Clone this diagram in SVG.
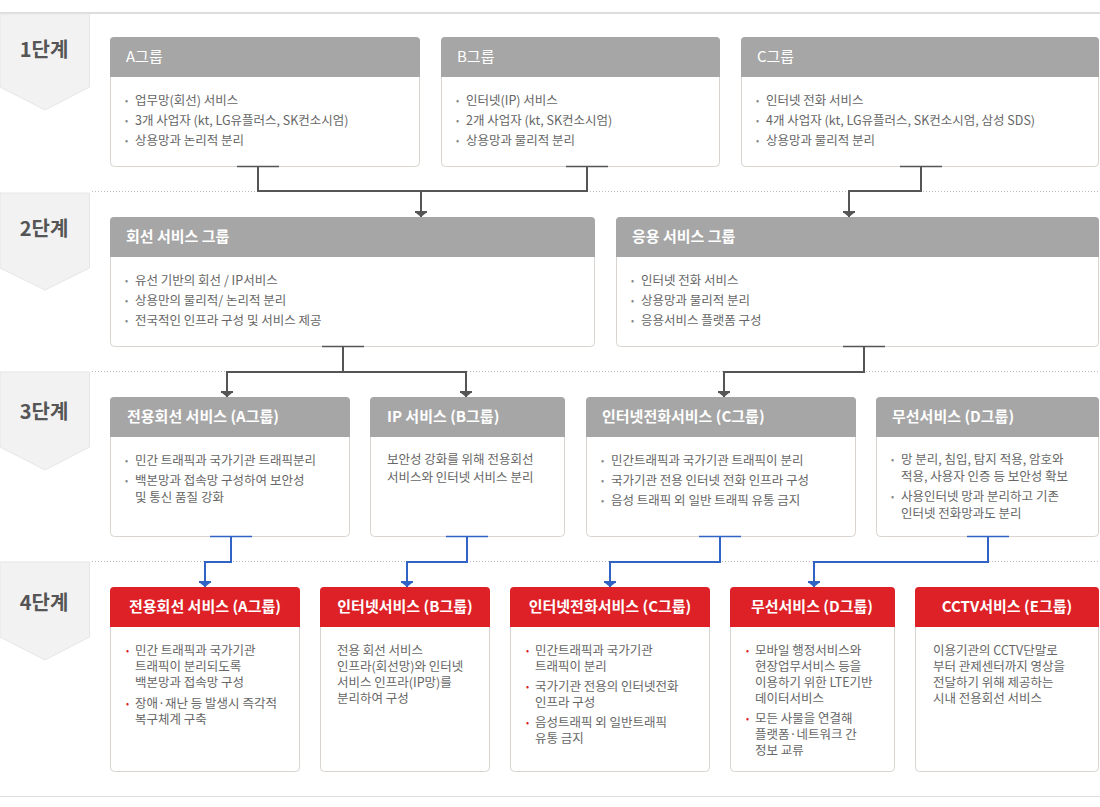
<svg xmlns="http://www.w3.org/2000/svg" width="1100" height="807" viewBox="0 0 1100 807">
<defs>
<style>
text { font-family: "Noto Sans CJK KR", "Noto Sans", sans-serif; }
.stg { fill: #f2f2f2; stroke: #e6e6e6; stroke-width: 1; }
.stt { font-size: 20px; font-weight: bold; fill: #555; text-anchor: middle; }
.box { fill: #fff; stroke: #d9d4cf; stroke-width: 1; }
.hg { fill: #a6a6a6; }
.hr { fill: #dd2127; }
.ht { font-size: 15px; font-weight: bold; fill: #fff; }
.ht1 { font-size: 15px; fill: #fff; }
.htc { font-size: 15px; font-weight: bold; fill: #fff; text-anchor: middle; }
.bt { font-size: 12.5px; fill: #666; }
.bu { font-size: 9px; fill: #888; }
.bur { font-size: 9px; fill: #dd2127; }
.sep { stroke: #bbb; stroke-width: 1; stroke-dasharray: 1 2; }
.rule { stroke: #ddd; }
.cg { stroke: #555; stroke-width: 2; fill: none; }
.cb { stroke: #3163c4; stroke-width: 2; fill: none; }
.sg { stroke: #555; stroke-width: 1.5; }
.sb { stroke: #3163c4; stroke-width: 1.5; }
</style>
<marker id="ag" viewBox="-7 -7 8 14" refX="0" refY="0" markerWidth="8" markerHeight="14" markerUnits="userSpaceOnUse" orient="auto">
<path d="M-6,-6 L-4,-6 L-4,-5 L0,0 L-4,5 L-4,6 L-6,6 Z" fill="#555"/>
</marker>
<marker id="ab" viewBox="-7 -7 8 14" refX="0" refY="0" markerWidth="8" markerHeight="14" markerUnits="userSpaceOnUse" orient="auto">
<path d="M-6,-6 L-4,-6 L-4,-5 L0,0 L-4,5 L-4,6 L-6,6 Z" fill="#3163c4"/>
</marker>
</defs>

<rect width="1100" height="807" fill="#fff"/>
<line class="rule" x1="0" y1="13" x2="1100" y2="13" stroke-width="2"/>
<line class="rule" x1="0" y1="796.5" x2="1100" y2="796.5" stroke-width="1"/>

<g id="separators">
<line class="sep" x1="92" y1="191.5" x2="1100" y2="191.5"/>
<line class="sep" x1="92" y1="371.5" x2="1100" y2="371.5"/>
<line class="sep" x1="92" y1="561.5" x2="1100" y2="561.5"/>
</g>

<g id="stage1"><polygon class="stg" points="0,14 89.5,14 89.5,87 45,110 0,87"/><text class="stt" x="44" y="57">1단계</text></g>
<g id="stage2"><polygon class="stg" points="0,193 89.5,193 89.5,268 45,290 0,268"/><text class="stt" x="44" y="236">2단계</text></g>
<g id="stage3"><polygon class="stg" points="0,372 89.5,372 89.5,447 45,470 0,447"/><text class="stt" x="44" y="419">3단계</text></g>
<g id="stage4"><polygon class="stg" points="0,562 89.5,562 89.5,637 45,660 0,637"/><text class="stt" x="44" y="610">4단계</text></g>

<!-- Stage 1 -->
<g id="s1-a">
<rect class="box" x="110.5" y="37.5" width="309" height="129" rx="4"/>
<path class="hg" d="M110,77 V41 A4,4 0 0 1 114,37 H416 A4,4 0 0 1 420,41 V77 Z"/>
<text class="ht1" x="126" y="62">A그룹</text>
<text class="bt"><tspan class="bu" x="125" y="104">•</tspan><tspan x="135" y="105">업무망(회선) 서비스</tspan><tspan class="bu" x="125" y="124">•</tspan><tspan x="135" y="125">3개 사업자 (kt, LG유플러스, SK컨소시엄)</tspan><tspan class="bu" x="125" y="144">•</tspan><tspan x="135" y="145">상용망과 논리적 분리</tspan></text>
</g>
<g id="s1-b">
<rect class="box" x="441.5" y="37.5" width="278" height="129" rx="4"/>
<path class="hg" d="M441,77 V41 A4,4 0 0 1 445,37 H716 A4,4 0 0 1 720,41 V77 Z"/>
<text class="ht1" x="457" y="62">B그룹</text>
<text class="bt"><tspan class="bu" x="456" y="104">•</tspan><tspan x="466" y="105">인터넷(IP) 서비스</tspan><tspan class="bu" x="456" y="124">•</tspan><tspan x="466" y="125">2개 사업자 (kt, SK컨소시엄)</tspan><tspan class="bu" x="456" y="144">•</tspan><tspan x="466" y="145">상용망과 물리적 분리</tspan></text>
</g>
<g id="s1-c">
<rect class="box" x="741.5" y="37.5" width="357" height="129" rx="4"/>
<path class="hg" d="M741,77 V41 A4,4 0 0 1 745,37 H1095 A4,4 0 0 1 1099,41 V77 Z"/>
<text class="ht1" x="757" y="62">C그룹</text>
<text class="bt"><tspan class="bu" x="756" y="104">•</tspan><tspan x="766" y="105">인터넷 전화 서비스</tspan><tspan class="bu" x="756" y="124">•</tspan><tspan x="766" y="125">4개 사업자 (kt, LG유플러스, SK컨소시엄, 삼성 SDS)</tspan><tspan class="bu" x="756" y="144">•</tspan><tspan x="766" y="145">상용망과 물리적 분리</tspan></text>
</g>

<!-- Stage 2 -->
<g id="s2-line">
<rect class="box" x="110.5" y="217.5" width="484" height="129" rx="4"/>
<path class="hg" d="M110,257 V221 A4,4 0 0 1 114,217 H591 A4,4 0 0 1 595,221 V257 Z"/>
<text class="ht" x="126" y="242">회선 서비스 그룹</text>
<text class="bt"><tspan class="bu" x="125" y="284">•</tspan><tspan x="135" y="285">유선 기반의 회선 / IP서비스</tspan><tspan class="bu" x="125" y="304">•</tspan><tspan x="135" y="305">상용만의 물리적/ 논리적 분리</tspan><tspan class="bu" x="125" y="324">•</tspan><tspan x="135" y="325">전국적인 인프라 구성 및 서비스 제공</tspan></text>
</g>
<g id="s2-app">
<rect class="box" x="616.5" y="217.5" width="482" height="129" rx="4"/>
<path class="hg" d="M616,257 V221 A4,4 0 0 1 620,217 H1095 A4,4 0 0 1 1099,221 V257 Z"/>
<text class="ht" x="632" y="242">응용 서비스 그룹</text>
<text class="bt"><tspan class="bu" x="631" y="284">•</tspan><tspan x="641" y="285">인터넷 전화 서비스</tspan><tspan class="bu" x="631" y="304">•</tspan><tspan x="641" y="305">상용망과 물리적 분리</tspan><tspan class="bu" x="631" y="324">•</tspan><tspan x="641" y="325">응용서비스 플랫폼 구성</tspan></text>
</g>

<!-- Stage 3 -->
<g id="s3-a">
<rect class="box" x="110.5" y="397.5" width="239" height="139" rx="4"/>
<path class="hg" d="M110,437 V401 A4,4 0 0 1 114,397 H346 A4,4 0 0 1 350,401 V437 Z"/>
<text class="ht" x="127" y="422">전용회선 서비스 (A그룹)</text>
<text class="bt"><tspan class="bu" x="125" y="464">•</tspan><tspan x="135" y="465">민간 트래픽과 국가기관 트래픽분리</tspan><tspan class="bu" x="125" y="484">•</tspan><tspan x="135" y="485">백본망과 접속망 구성하여 보안성</tspan><tspan x="135" y="502">및 통신 품질 강화</tspan></text>
</g>
<g id="s3-b">
<rect class="box" x="370.5" y="397.5" width="194" height="139" rx="4"/>
<path class="hg" d="M370,437 V401 A4,4 0 0 1 374,397 H561 A4,4 0 0 1 565,401 V437 Z"/>
<text class="ht" x="387" y="422">IP 서비스 (B그룹)</text>
<text class="bt"><tspan x="387" y="464">보안성 강화를 위해 전용회선</tspan><tspan x="387" y="482">서비스와 인터넷 서비스 분리</tspan></text>
</g>
<g id="s3-c">
<rect class="box" x="586.5" y="397.5" width="269" height="139" rx="4"/>
<path class="hg" d="M586,437 V401 A4,4 0 0 1 590,397 H852 A4,4 0 0 1 856,401 V437 Z"/>
<text class="ht" x="602" y="422">인터넷전화서비스 (C그룹)</text>
<text class="bt"><tspan class="bu" x="601" y="464">•</tspan><tspan x="611" y="465">민간트래픽과 국가기관 트래픽이 분리</tspan><tspan class="bu" x="601" y="484">•</tspan><tspan x="611" y="485">국가기관 전용 인터넷 전화 인프라 구성</tspan><tspan class="bu" x="601" y="504">•</tspan><tspan x="611" y="505">음성 트래픽 외 일반 트래픽 유통 금지</tspan></text>
</g>
<g id="s3-d">
<rect class="box" x="876.5" y="397.5" width="222" height="139" rx="4"/>
<path class="hg" d="M876,437 V401 A4,4 0 0 1 880,397 H1095 A4,4 0 0 1 1099,401 V437 Z"/>
<text class="ht" x="892" y="422">무선서비스 (D그룹)</text>
<text class="bt"><tspan class="bu" x="891" y="463">•</tspan><tspan x="901" y="464">망 분리, 침입, 탐지 적용, 암호와</tspan><tspan x="901" y="481">적용, 사용자 인증 등 보안성 확보</tspan><tspan class="bu" x="891" y="500">•</tspan><tspan x="901" y="501">사용인터넷 망과 분리하고 기존</tspan><tspan x="901" y="518">인터넷 전화망과도 분리</tspan></text>
</g>

<!-- Stage 4 -->
<g id="s4-a">
<rect class="box" x="110.5" y="587.5" width="189" height="184" rx="4"/>
<path class="hr" d="M110,627 V591 A4,4 0 0 1 114,587 H296 A4,4 0 0 1 300,591 V627 Z"/>
<text class="htc" x="205" y="612">전용회선 서비스 (A그룹)</text>
<text class="bt"><tspan class="bur" x="126" y="654">•</tspan><tspan x="135" y="655">민간 트래픽과 국가기관</tspan><tspan x="135" y="671">트래픽이 분리되도록</tspan><tspan x="135" y="687">백본망과 접속망 구성</tspan><tspan class="bur" x="126" y="707">•</tspan><tspan x="135" y="708">장애·재난 등 발생시 즉각적</tspan><tspan x="135" y="724">복구체계 구축</tspan></text>
</g>
<g id="s4-b">
<rect class="box" x="320.5" y="587.5" width="169" height="184" rx="4"/>
<path class="hr" d="M320,627 V591 A4,4 0 0 1 324,587 H486 A4,4 0 0 1 490,591 V627 Z"/>
<text class="htc" x="405" y="612">인터넷서비스 (B그룹)</text>
<text class="bt"><tspan x="337" y="655">전용 회선 서비스</tspan><tspan x="337" y="671">인프라(회선망)와 인터넷</tspan><tspan x="337" y="687">서비스 인프라(IP망)를</tspan><tspan x="337" y="703">분리하여 구성</tspan></text>
</g>
<g id="s4-c">
<rect class="box" x="510.5" y="587.5" width="199" height="184" rx="4"/>
<path class="hr" d="M510,627 V591 A4,4 0 0 1 514,587 H706 A4,4 0 0 1 710,591 V627 Z"/>
<text class="htc" x="610" y="612">인터넷전화서비스 (C그룹)</text>
<text class="bt"><tspan class="bur" x="526" y="654">•</tspan><tspan x="535" y="655">민간트래픽과 국가기관</tspan><tspan x="535" y="671">트래픽이 분리</tspan><tspan class="bur" x="526" y="690">•</tspan><tspan x="535" y="691">국가기관 전용의 인터넷전화</tspan><tspan x="535" y="707">인프라 구성</tspan><tspan class="bur" x="526" y="726">•</tspan><tspan x="535" y="727">음성트래픽 외 일반트래픽</tspan><tspan x="535" y="743">유통 금지</tspan></text>
</g>
<g id="s4-d">
<rect class="box" x="730.5" y="587.5" width="164" height="184" rx="4"/>
<path class="hr" d="M730,627 V591 A4,4 0 0 1 734,587 H891 A4,4 0 0 1 895,591 V627 Z"/>
<text class="htc" x="812" y="612">무선서비스 (D그룹)</text>
<text class="bt"><tspan class="bur" x="746" y="654">•</tspan><tspan x="755" y="655">모바일 행정서비스와</tspan><tspan x="755" y="671">현장업무서비스 등을</tspan><tspan x="755" y="687">이용하기 위한 LTE기반</tspan><tspan x="755" y="703">데이터서비스</tspan><tspan class="bur" x="746" y="722">•</tspan><tspan x="755" y="723">모든 사물을 연결해</tspan><tspan x="755" y="739">플랫폼·네트워크 간</tspan><tspan x="755" y="755">정보 교류</tspan></text>
</g>
<g id="s4-e">
<rect class="box" x="915.5" y="587.5" width="183" height="184" rx="4"/>
<path class="hr" d="M915,627 V591 A4,4 0 0 1 919,587 H1095 A4,4 0 0 1 1099,591 V627 Z"/>
<text class="htc" x="1007" y="612">CCTV서비스 (E그룹)</text>
<text class="bt"><tspan x="933" y="655">이용기관의 CCTV단말로</tspan><tspan x="933" y="671">부터 관제센터까지 영상을</tspan><tspan x="933" y="687">전달하기 위해 제공하는</tspan><tspan x="933" y="703">시내 전용회선 서비스</tspan></text>
</g>

<g id="connectors">
<line class="sg" x1="237" y1="166.5" x2="279" y2="166.5"/>
<line class="sg" x1="566" y1="166.5" x2="608" y2="166.5"/>
<line class="sg" x1="900" y1="166.5" x2="942" y2="166.5"/>
<line class="sg" x1="322" y1="346.5" x2="364" y2="346.5"/>
<line class="sg" x1="843" y1="346.5" x2="885" y2="346.5"/>
<line class="sb" x1="210" y1="536.5" x2="252" y2="536.5"/>
<line class="sb" x1="446" y1="536.5" x2="488" y2="536.5"/>
<line class="sb" x1="699" y1="536.5" x2="741" y2="536.5"/>
<line class="sb" x1="967" y1="536.5" x2="1009" y2="536.5"/>

<path class="cg" d="M258,167 V191 H421 V217" marker-end="url(#ag)"/>
<path class="cg" d="M587,167 V191 H421"/>
<path class="cg" d="M921,167 V191 H849 V217" marker-end="url(#ag)"/>
<path class="cg" d="M343,347 V372 H227 V397" marker-end="url(#ag)"/>
<path class="cg" d="M343,372 H466 V397" marker-end="url(#ag)"/>
<path class="cg" d="M864,347 V372 H724 V397" marker-end="url(#ag)"/>
<path class="cb" d="M231,537 V562 H205 V587" marker-end="url(#ab)"/>
<path class="cb" d="M467,537 V562 H407 V587" marker-end="url(#ab)"/>
<path class="cb" d="M720,537 V562 H610 V587" marker-end="url(#ab)"/>
<path class="cb" d="M988,537 V562 H814 V587" marker-end="url(#ab)"/>
</g>
</svg>
